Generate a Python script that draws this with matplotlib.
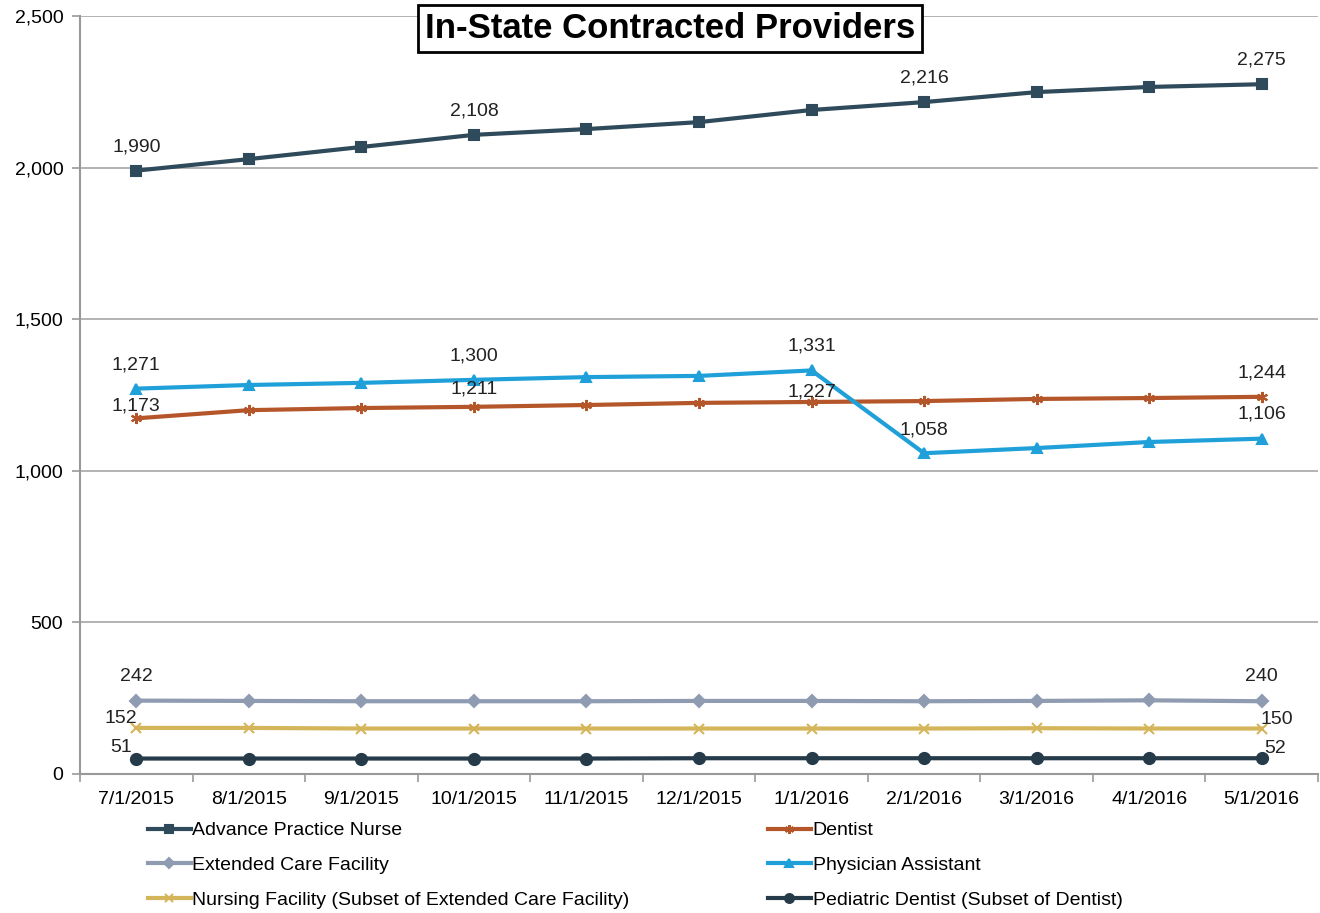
import numpy as np
import matplotlib.pyplot as plt
from matplotlib.ticker import FuncFormatter

plt.rcParams['font.family'] = ['Liberation Sans', 'DejaVu Sans']

months = ["7/1/2015", "8/1/2015", "9/1/2015", "10/1/2015", "11/1/2015", "12/1/2015",
          "1/1/2016", "2/1/2016", "3/1/2016", "4/1/2016", "5/1/2016"]

apn = [1990, 2028, 2068, 2108, 2127, 2150, 2190, 2216, 2249, 2266, 2275]
dentist = [1173, 1200, 1207, 1211, 1217, 1224, 1227, 1230, 1237, 1240, 1244]
ecf = [242, 241, 240, 240, 240, 241, 241, 240, 241, 243, 240]
pa = [1271, 1283, 1290, 1300, 1309, 1313, 1331, 1058, 1075, 1095, 1106]
nf = [152, 152, 150, 150, 150, 150, 150, 150, 151, 150, 150]
ped = [51, 51, 51, 51, 51, 52, 52, 52, 52, 52, 52]

# which points get a value label, and the (dx, dy) offset in points
apn_lab = {0: (0, 17), 3: (0, 17.5), 7: (0, 17), 10: (0, 17.5)}
pa_lab = {0: (0, 17), 3: (0, 17.5), 6: (0, 17.5), 7: (0, 16.5), 10: (0, 17.5)}
dent_lab = {0: (0, 9), 3: (0, 12.5), 6: (0, 7), 10: (0, 17.5)}
ecf_lab = {0: (0, 17.5), 10: (0, 17.5)}
nf_lab = {0: (-11, 6.5), 10: (11, 6.5)}
ped_lab = {0: (-11, 8), 10: (9.5, 7)}

x = np.arange(len(months))

fig = plt.figure(figsize=(13.2, 9.13), dpi=100)
ax = fig.add_axes([80 / 1320, 1 - 774 / 913, 1238 / 1320, 758 / 913])

series = [
    ("Advance Practice Nurse", apn, "#2f4a5a", "s", 7, apn_lab),
    ("Dentist", dentist, "#b5562a", (6, 2, 0), 8, dent_lab),
    ("Extended Care Facility", ecf, "#8e9bb0", "D", 6, ecf_lab),
    ("Physician Assistant", pa, "#1fa0d8", "^", 7, pa_lab),
    ("Nursing Facility (Subset of Extended Care Facility)", nf, "#d5b55a", "x", 7, nf_lab),
    ("Pediatric Dentist (Subset of Dentist)", ped, "#263b4a", "o", 8, ped_lab),
]

handles = {}
for name, vals, col, mk, ms, labs in series:
    h, = ax.plot(x, vals, color=col, marker=mk, markersize=ms, linewidth=3,
                 markeredgewidth=1.5, label=name, zorder=3)
    handles[name] = h
    for i, (dx, dy) in labs.items():
        ax.annotate(f"{vals[i]:,}", (x[i], vals[i]), xytext=(dx, dy),
                    textcoords="offset points", ha="center", va="center",
                    fontsize=14, color="#222222", zorder=4)

ax.set_xlim(-0.5, len(months) - 0.5)
ax.set_ylim(0, 2500)
ax.set_yticks(np.arange(0, 2501, 500))
ax.yaxis.set_major_formatter(FuncFormatter(lambda v, p: f"{int(v):,}"))
ax.set_xticks(x)
ax.set_xticklabels(months)
ax.set_xticks(np.arange(-0.5, len(months), 1), minor=True)
ax.tick_params(axis="x", which="major", length=0, labelsize=14, pad=12)
ax.tick_params(axis="x", which="minor", length=6, color="#999999", width=1.2)
ax.tick_params(axis="y", length=6, color="#999999", width=1.2, labelsize=14, pad=6)
ax.grid(axis="y", color="#a6a6a6", linewidth=1.2)
ax.set_axisbelow(True)
for s in ["top", "right"]:
    ax.spines[s].set_visible(False)
for s in ["left", "bottom"]:
    ax.spines[s].set_color("#999999")
    ax.spines[s].set_linewidth(1.5)

ax.text(0.4766, 0.983, "In-State Contracted Providers", transform=ax.transAxes,
        ha="center", va="center", fontsize=25, fontweight="bold",
        bbox=dict(boxstyle="square,pad=0.2", facecolor="white", edgecolor="black", linewidth=2),
        zorder=5)

order = ["Advance Practice Nurse", "Extended Care Facility",
         "Nursing Facility (Subset of Extended Care Facility)",
         "Dentist", "Physician Assistant", "Pediatric Dentist (Subset of Dentist)"]
fig.legend([handles[n] for n in order], order, ncol=2, loc="upper left",
           bbox_to_anchor=(140 / 1320, 1 - 814 / 913), frameon=False,
           fontsize=14, handlelength=2.2, handletextpad=0.1, markerscale=0.8,
           columnspacing=7.1, labelspacing=0.88, borderaxespad=0)

fig.savefig("out.png", dpi=100)
